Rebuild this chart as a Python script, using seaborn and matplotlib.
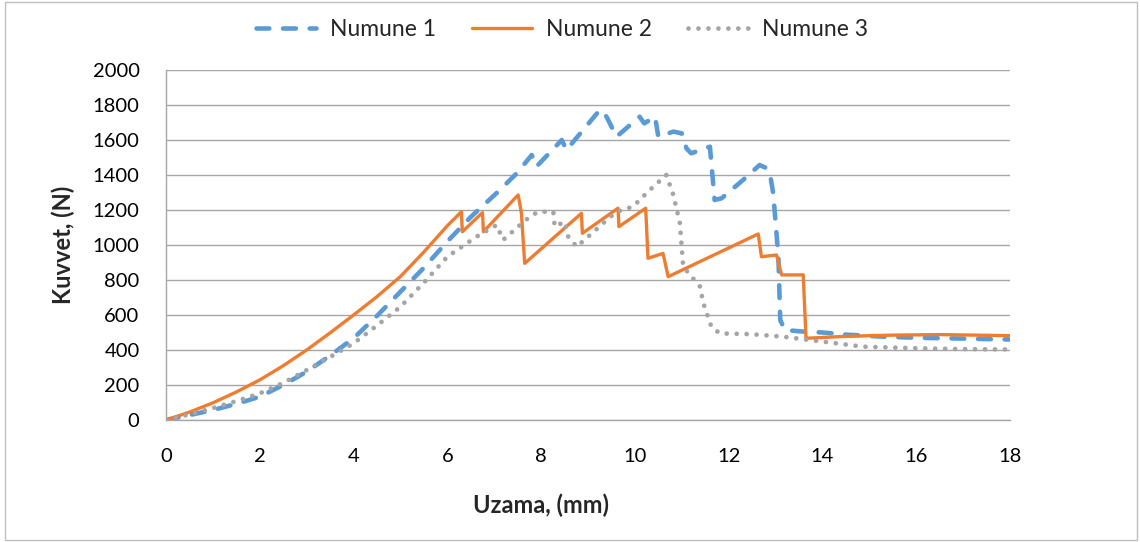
import numpy as np
import pandas as pd
import matplotlib
matplotlib.use('Agg')
import matplotlib.pyplot as plt
import seaborn as sns

# Numune 1 (blue, dashed)
x1 = [0, 0.5, 1, 1.5, 2, 2.5, 3, 3.5, 4, 4.5, 5, 5.5, 6, 6.5, 7.12, 7.48, 7.8, 7.9,
      8.44, 8.54, 9.25, 9.32, 9.4, 9.61, 10.1, 10.2, 10.43, 10.5, 10.82, 11.0, 11.1,
      11.2, 11.6, 11.7, 11.85, 12.3, 12.66, 12.8, 12.88, 12.95, 13.06, 13.1, 13.2,
      13.6, 14.0, 14.5, 15.3, 16, 17, 18]
y1 = [0, 28, 57, 92, 133, 200, 276, 368, 467, 595, 733, 870, 1020, 1160, 1314, 1410,
      1514, 1448, 1600, 1543, 1771, 1765, 1730, 1619, 1733, 1695, 1733, 1619, 1648,
      1638, 1552, 1524, 1562, 1257, 1267, 1370, 1457, 1440, 1410, 1295, 933, 571, 514,
      505, 500, 488, 476, 470, 465, 460]

# Numune 2 (orange, solid)
x2 = [0, 0.5, 1, 1.5, 2, 2.5, 3, 3.5, 4, 4.5, 5, 5.5, 6, 6.3, 6.32, 6.75, 6.77,
      7.51, 7.55, 7.58, 7.65, 8.86, 8.88, 9.64, 9.66, 10.23, 10.28, 10.6, 10.71,
      12.63, 12.7, 13.02, 13.13, 13.59, 13.65, 14.5, 15.5, 16.5, 18]
y2 = [0, 45, 98, 160, 229, 310, 400, 498, 600, 705, 820, 960, 1110, 1190, 1076, 1185,
      1076, 1286, 1230, 1181, 895, 1181, 1067, 1210, 1105, 1210, 924, 952, 819, 1063,
      933, 943, 829, 829, 467, 478, 485, 488, 482]

# Numune 3 (gray, dotted)
x3 = [0, 0.5, 1, 1.5, 2, 2.5, 3, 3.5, 4, 4.5, 5, 5.5, 6, 6.62, 7.05, 7.19, 7.55,
      7.76, 7.94, 8.26, 8.29, 8.5, 8.58, 8.76, 9.0, 9.4, 9.61, 9.96, 10.28, 10.67,
      10.82, 10.96, 11.03, 11.39, 11.46, 11.63, 11.81, 12.5, 13.16, 13.73, 14.87, 16,
      17, 18]
y3 = [0, 32, 68, 108, 152, 212, 285, 360, 438, 540, 647, 785, 933, 1047, 1114, 1029,
      1114, 1162, 1190, 1190, 1105, 1133, 1047, 990, 1047, 1143, 1190, 1219, 1305,
      1400, 1286, 1124, 876, 762, 667, 533, 495, 490, 476, 457, 419, 410, 405, 403]

names = ['Numune 1', 'Numune 2', 'Numune 3']
colors = ['#5B9BD5', '#ED7D31', '#A5A5A5']

sns.set_style('white')
plt.rcParams['font.family'] = ['Lato', 'DejaVu Sans']

fig = plt.figure(figsize=(11.4, 5.42), dpi=100)
ax = fig.add_axes([166 / 1140, 1 - 420 / 542, 844 / 1140, 350 / 542])

ax.yaxis.grid(True, color='#a6a6a6', linewidth=1)
ax.set_axisbelow(True)

sns.lineplot(x=x1, y=y1, ax=ax, color=colors[0], linewidth=3.3, linestyle=(0, (2.8, 3.0)),
             sort=False, estimator=None, label=names[0], dash_capstyle='round')
sns.lineplot(x=x2, y=y2, ax=ax, color=colors[1], linewidth=2.4, linestyle='-',
             sort=False, estimator=None, label=names[1])
sns.lineplot(x=x3, y=y3, ax=ax, color=colors[2], linewidth=3.4, linestyle=(0, (0.01, 2.1)),
             sort=False, estimator=None, label=names[2], dash_capstyle='round')

ax.set_xlim(0, 18)
ax.set_ylim(0, 2000)
ax.set_xticks(range(0, 19, 2))
ax.set_yticks(range(0, 2001, 200))
ax.tick_params(axis='both', labelsize=14.5, colors='#a6a6a6', labelcolor='black',
               length=6, width=1, direction='out')
ax.tick_params(axis='x', pad=14)
ax.tick_params(axis='y', pad=13)

for side in ['top', 'right']:
    ax.spines[side].set_visible(False)
for side in ['left', 'bottom']:
    ax.spines[side].set_color('#a6a6a6')
    ax.spines[side].set_linewidth(1)

ax.set_xlabel('Uzama, (mm)', fontsize=17, fontweight='bold')
ax.set_ylabel('Kuvvet, (N)', fontsize=17, fontweight='bold')
ax.xaxis.set_label_coords((541 - 166) / 844, -0.21)
ax.yaxis.set_label_coords(-0.108, 0.5)

ax.legend(loc='center', bbox_to_anchor=(562 / 1140, 1 - 30 / 542),
          bbox_transform=fig.transFigure, ncol=3, frameon=False, fontsize=16.5,
          handlelength=2.6, columnspacing=1.6, handletextpad=0.6)

fig.patches.append(plt.Rectangle((0.004, 0.003), 0.993, 0.994, transform=fig.transFigure,
                                 fill=False, edgecolor='#bfbfbf', linewidth=1))

plt.savefig('out.png', dpi=100)
plt.close()
